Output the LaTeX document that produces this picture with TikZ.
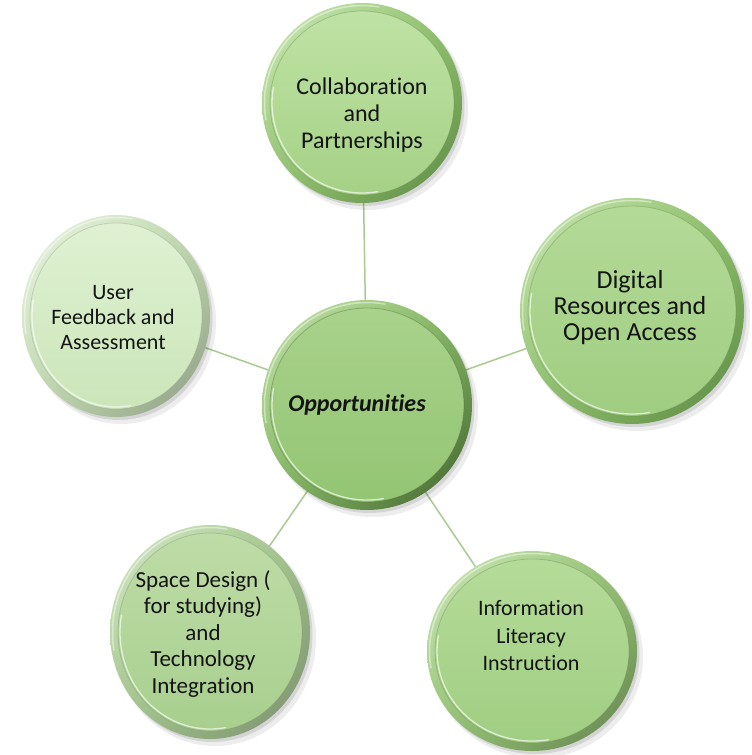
\documentclass[tikz,border=0pt]{standalone}
\usepackage{fontspec}
\setmainfont{Carlito}[Ligatures={NoCommon,NoContextual}]
\usetikzlibrary{shadings}
% colour sets: il/id inner light/dark, rl/rm/rd rim light/mid/dark
\definecolor{topil}{HTML}{BFE2A4}\definecolor{topid}{HTML}{A5D186}
\definecolor{toprl}{HTML}{D2ECBD}\definecolor{toprm}{HTML}{8FC16C}\definecolor{toprd}{HTML}{5B8742}
\definecolor{rgtil}{HTML}{B4DA98}\definecolor{rgtid}{HTML}{9FCD81}
\definecolor{rgtrl}{HTML}{CDE9B7}\definecolor{rgtrm}{HTML}{8DBF6A}\definecolor{rgtrd}{HTML}{5B8742}
\definecolor{cenil}{HTML}{A9D28B}\definecolor{cenid}{HTML}{93C573}
\definecolor{cenrl}{HTML}{C7E5AF}\definecolor{cenrm}{HTML}{84B862}\definecolor{cenrd}{HTML}{3F5F2C}
\definecolor{brtil}{HTML}{B5DB99}\definecolor{brtid}{HTML}{A0CE82}
\definecolor{brtrl}{HTML}{D0EABB}\definecolor{brtrm}{HTML}{93C271}\definecolor{brtrd}{HTML}{62804E}
\definecolor{blfil}{HTML}{BEDCA7}\definecolor{blfid}{HTML}{A8CF8E}
\definecolor{blfrl}{HTML}{D8EBC9}\definecolor{blfrm}{HTML}{A0C489}\definecolor{blfrd}{HTML}{7A8D6E}
\definecolor{lftil}{HTML}{DFF1D2}\definecolor{lftid}{HTML}{CBE5B9}
\definecolor{lftrl}{HTML}{EDF6E6}\definecolor{lftrm}{HTML}{BFD9AC}\definecolor{lftrd}{HTML}{8C9A83}
\definecolor{linkgreen}{HTML}{A9CB91}
\definecolor{txt}{HTML}{141414}
\tikzset{
  conn/.style={draw=linkgreen, line width=1.5pt},
  lbl/.style={align=center, text=txt, inner sep=0pt},
  hub/.style={circle, inner sep=0pt, draw=none},
}
% #1 x, #2 y, #3 rx, #4 ry, #5 colour set
\newcommand\bubble[5]{%
  \fill[black,opacity=.07] (#1+5,#2+6) ellipse[x radius=#3+1, y radius=#4+1];
  \fill[black,opacity=.10] (#1+2.5,#2+3) ellipse[x radius=#3, y radius=#4];
  \shade[upper left=#5rl, upper right=#5rm, lower left=#5rm, lower right=#5rd]
    (#1,#2) ellipse[x radius=#3, y radius=#4];
  \shade[top color=#5il, bottom color=#5id] (#1,#2) ellipse[x radius=#3-8, y radius=#4-8];
  \draw[#5rd, opacity=.35, line width=.8pt] (#1,#2) ellipse[x radius=#3-8, y radius=#4-8];
  \draw[white, opacity=.65, line width=1.3pt, line cap=round]
    (#1,#2) ++(80:{#3-10} and {#4-10}) arc[start angle=80, end angle=190, x radius=#3-10, y radius=#4-10];
  \draw[white, opacity=.45, line width=1.5pt, line cap=round]
    (#1,#2) ++(170:{#3-2.5} and {#4-2.5}) arc[start angle=170, end angle=280, x radius=#3-2.5, y radius=#4-2.5];
}
\begin{document}
\begin{tikzpicture}[x=1pt, y=-1pt]
\useasboundingbox (0,0) rectangle (752,755);
\fill[white] (0,0) rectangle (752,755);

% hubs (named positions of the circles)
\node[hub, minimum size=195pt] (lft) at (116,316) {};
\node[hub, minimum size=200pt] (top) at (362,103) {};
\node[hub, minimum size=225pt] (rgt) at (632,311) {};
\node[hub, minimum size=207pt] (blf) at (210,632) {};
\node[hub, minimum size=205pt] (brt) at (532,651) {};
\node[hub, minimum size=210pt] (cen) at (367,405) {};

% connectors (drawn first, covered by the circles)
\draw[conn] (cen.center) -- (top.center);
\draw[conn] (cen.center) -- (rgt.center);
\draw[conn] (cen.center) -- (brt.center);
\draw[conn] (cen.center) -- (blf.center);
\draw[conn] (cen.center) -- (lft.center);

\bubble{116}{316}{94}{101}{lft}
\bubble{362}{103}{100}{100}{top}
\bubble{632}{311}{112}{113}{rgt}
\bubble{210}{632}{100}{107}{blf}
\bubble{532}{651}{105}{100}{brt}
\bubble{367}{405}{105}{105}{cen}

\node[lbl, font=\fontsize{24}{27}\selectfont] (top-t) at (362,115) {Collaboration\\and\\Partnerships};
\node[lbl, font=\fontsize{26}{26}\selectfont] (rgt-t) at (630,308) {Digital\\Resources and\\Open Access};
\node[lbl, font=\fontsize{22}{25}\selectfont] (lft-t) at (113,318) {User\\Feedback and\\Assessment};
\node[lbl, font=\fontsize{23}{26.5}\selectfont] (blf-t) at (203,634) {Space Design (\\for studying)\\and\\Technology\\Integration};
\node[lbl, font=\fontsize{22}{27.5}\selectfont] (brt-t) at (531,636) {Information\\Literacy\\Instruction};
\node[lbl, font=\fontsize{24}{27}\selectfont\bfseries\itshape] (cen-t) at (357,405) {Opportunities};
\end{tikzpicture}
\end{document}
